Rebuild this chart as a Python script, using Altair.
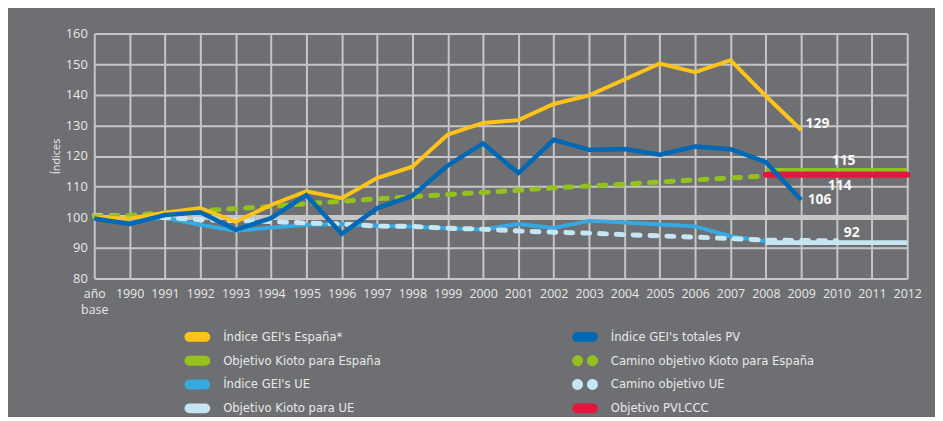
import json
import altair as alt
import pandas as pd

# ---------------- data ----------------
x_labels = ["año base", "1990", "1991", "1992", "1993", "1994", "1995", "1996",
            "1997", "1998", "1999", "2000", "2001", "2002", "2003", "2004",
            "2005", "2006", "2007", "2008", "2009", "2010", "2011", "2012"]

# Índice GEI's España*  (año base .. 2009)
spain = [100.0, 99.5, 101.5, 103.0, 98.5, 104.0, 108.5, 106.2, 112.8, 116.5,
         127.0, 130.8, 131.7, 137.0, 139.8, 145.0, 150.2, 147.4, 151.3, 139.6, 128.5]
# Índice GEI's totales PV (año base .. 2009)
pv = [99.6, 97.8, 100.7, 101.6, 95.9, 99.7, 107.2, 94.6, 102.9, 107.0,
      116.9, 124.1, 114.4, 125.3, 122.0, 122.3, 120.4, 123.1, 122.2, 118.0, 105.6]
# Índice GEI's UE (año base .. 2008)
eu = [100.0, 98.8, 99.8, 97.5, 95.6, 96.6, 97.5, 97.8, 97.2, 96.9,
      96.4, 96.0, 97.8, 96.5, 98.8, 98.3, 97.6, 97.0, 93.8, 92.1]
# Camino objetivo Kioto para España (año base .. 2008)
camino_esp = [100.3, 100.6, 101.4, 102.1, 102.8, 103.5, 104.4, 105.2, 106.0, 106.7,
              107.4, 108.1, 108.8, 109.6, 110.2, 110.8, 111.5, 112.2, 112.8, 113.5]
# Camino objetivo UE (año base .. 2010)
camino_ue = [100.6, 100.3, 99.9, 99.2, 98.9, 98.6, 98.1, 97.8, 97.1, 97.0,
             96.4, 96.1, 95.5, 95.1, 94.8, 94.3, 93.9, 93.5, 93.0, 92.5, 92.4, 92.3]
# Objectives 2008 .. 2012
kioto_esp = [115.5, 115.5, 115.5, 115.5, 115.5]
kioto_ue = [91.7, 91.7, 91.7, 91.7, 91.7]
pvlccc = [113.9, 113.9, 113.9, 113.9, 113.9]

# legend entries, column by column
legend_names = ["Índice GEI's España*", "Objetivo Kioto para España",
                "Índice GEI's UE", "Objetivo Kioto para UE",
                "Índice GEI's totales PV", "Camino objetivo Kioto para España",
                "Camino objetivo UE", "Objetivo PVLCCC"]

label_text = ["129", "115", "114", "106", "92"]
label_i = [20.46, 21.2, 21.09, 20.52, 21.43]
label_v = [130.6, 118.2, 110.1, 105.6, 94.9]

# ---------------- build tables ----------------
series_data = {
    "Índice GEI's España*": (0, spain),
    "Índice GEI's totales PV": (0, pv),
    "Índice GEI's UE": (0, eu),
    "Camino objetivo Kioto para España": (0, camino_esp),
    "Camino objetivo UE": (0, camino_ue),
    "Objetivo Kioto para España": (19, kioto_esp),
    "Objetivo Kioto para UE": (19, kioto_ue),
    "Objetivo PVLCCC": (19, pvlccc),
}
rows = []
for name, (start, vals) in series_data.items():
    for k, v in enumerate(vals):
        rows.append({"series": name, "i": start + k, "value": v})
df = pd.DataFrame(rows)
labels_df = pd.DataFrame({"text": label_text, "i": label_i, "value": label_v})

# ---------------- styles ----------------
BG = "#6e6f72"
GRID = "#c6c6c6"
TXT = "#e8e8e8"
colors = {
    "Índice GEI's España*": "#fdc31a",
    "Índice GEI's totales PV": "#0068b4",
    "Objetivo Kioto para España": "#95c11f",
    "Camino objetivo Kioto para España": "#95c11f",
    "Índice GEI's UE": "#36a9e1",
    "Camino objetivo UE": "#c6e6f3",
    "Objetivo Kioto para UE": "#c6e6f3",
    "Objetivo PVLCCC": "#e3173e",
}
PILL = "M-1,-0.62 L1,-0.62 A0.62,0.62 0 0 1 1,0.62 L-1,0.62 A0.62,0.62 0 0 1 -1,-0.62 Z"
DOTS = ("M-0.25,0 A0.69,0.69 0 1 1 -1.63,0 A0.69,0.69 0 1 1 -0.25,0 Z "
        "M1.63,0 A0.69,0.69 0 1 1 0.25,0 A0.69,0.69 0 1 1 1.63,0 Z")
shapes = [DOTS if n.startswith("Camino") else PILL for n in legend_names]

# draw order, width, dash, cap
line_styles = [
    ("Índice GEI's UE", 4, None, "butt"),
    ("Objetivo Kioto para UE", 5, None, "butt"),
    ("Camino objetivo UE", 5, [7, 10], "round"),
    ("Camino objetivo Kioto para España", 5, [7, 10], "round"),
    ("Objetivo Kioto para España", 3.5, None, "butt"),
    ("Objetivo PVLCCC", 6, None, "round"),
    ("Índice GEI's España*", 4, None, "butt"),
    ("Índice GEI's totales PV", 4.5, None, "butt"),
]

FONT = "Open Sans, Noto Sans, sans-serif"
NARROW = "Liberation Sans Narrow, DejaVu Sans Condensed, Open Sans, sans-serif"

label_expr = json.dumps([["año", "base"]] + x_labels[1:], ensure_ascii=False) + "[datum.value]"

x_axis = alt.Axis(values=list(range(24)), labelExpr=label_expr, title=None,
                  grid=True, gridColor=GRID, gridWidth=2, ticks=False,
                  domain=False, labelColor=TXT, labelFont=FONT,
                  labelFontSize=12.5, labelPadding=9, labelLineHeight=16,
                  labelFlush=False, labelOverlap=False)
y_axis = alt.Axis(values=list(range(80, 161, 10)), title="Índices",
                  grid=True, gridColor=GRID,
                  gridWidth={"condition": {"test": "datum.value === 100", "value": 5}, "value": 2},
                  ticks=False, domain=False, labelColor=TXT, labelFont=FONT,
                  labelFontSize=13, labelPadding=7, titleColor=TXT,
                  titleFont=FONT, titleFontSize=11, titleFontWeight="normal",
                  titlePadding=4, labelOverlap=False)
x_scale = alt.Scale(domain=[0, 23], nice=False, zero=False)
y_scale = alt.Scale(domain=[80, 160], nice=False, zero=False)


def xe():
    return alt.X("i:Q", scale=x_scale, axis=x_axis)


def ye():
    return alt.Y("value:Q", scale=y_scale, axis=y_axis)


base = alt.Chart(df)
layers = []
# legend-only layer (empty data, legend from explicit domains)
layers.append(
    base.mark_point(filled=True, size=256, opacity=1, strokeWidth=0)
    .transform_filter("datum.i < 0")
    .encode(
        x=xe(), y=ye(),
        fill=alt.Fill("series:N",
                      scale=alt.Scale(domain=legend_names, range=[colors[n] for n in legend_names]),
                      legend=alt.Legend(title=None, orient="none", legendX=96, legendY=298,
                                        columns=2, columnPadding=191, rowPadding=9,
                                        symbolSize=256, labelOffset=18, labelColor=TXT,
                                        labelFont=NARROW, labelFontSize=13, labelLimit=400,
                                        symbolStrokeWidth=0, symbolOpacity=1)),
        shape=alt.Shape("series:N", scale=alt.Scale(domain=legend_names, range=shapes),
                        legend=alt.Legend(title=None)),
    )
)
for name, w, dash, cap in line_styles:
    kw = dict(color=colors[name], strokeWidth=w, strokeCap=cap, strokeJoin="miter")
    if dash:
        kw["strokeDash"] = dash
    layers.append(
        base.mark_line(**kw)
        .transform_filter(alt.datum.series == name)
        .encode(x=xe(), y=ye(), order="i:Q")
    )
layers.append(
    alt.Chart(labels_df).mark_text(color="#f8f8f8", font=FONT, fontSize=14,
                                   fontWeight="bold", align="center", baseline="middle")
    .encode(x=xe(), y=ye(), text="text:N")
)

chart = alt.layer(*layers).properties(
    width=820, height=247,
    autosize=alt.AutoSizeParams(type="none"),
    padding={"left": 87, "top": 24, "right": 28, "bottom": 138},
    background=BG,
).configure_view(stroke=None)

chart.save("out.html", embed_options={"renderer": "svg", "actions": False})
